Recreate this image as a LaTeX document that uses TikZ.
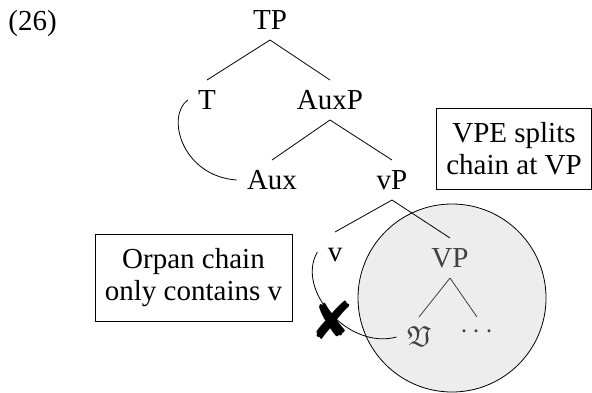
\documentclass[tikz,border=0pt]{standalone}
\usepackage{amssymb}
\usepackage{fontspec}
\setmainfont{Liberation Serif}
\newfontfamily\dingfont{DejaVu Sans}

\begin{document}
\begin{tikzpicture}[x=0.5pt,y=-0.5pt]
    \tikzstyle{every node}=[font=\fontsize{14.5}{16}\selectfont]
    \tikzstyle{cat}=[text height=9.6pt,text depth=0pt,inner xsep=5pt,inner ysep=5pt]
    \tikzstyle{note}=[draw,align=center,inner xsep=5pt,inner ysep=7pt]
    \tikzstyle{elided}=[black!75]
    \useasboundingbox (0,0) rectangle (592,392);
    % the elided VP
    \filldraw[fill=black!7,draw=black] (452,298) circle [radius=47pt];
    \node[anchor=base west,inner sep=0] (ex) at (8,30) {(26)};
    \node[cat] (tp) at (270,20) {TP};
    \node[cat] (t) at (207,100) {T};
    \node[cat] (auxp) at (330,100) {AuxP};
    \node[cat] (aux) at (272,180) {Aux};
    \node[cat] (vp) at (392,180) {vP};
    \node[cat] (v) at (335,252) {v};
    \node[cat,elided] (bigvp) at (450,258) {VP};
    \node[cat,elided] (vroot) at (419,337) {$\mathfrak{V}$};
    \node[cat,elided] (dots) at (477,337) {\raisebox{4pt}{$\cdots$}};
    \draw (tp.south) -- (t.north);
    \draw (tp.south) -- (auxp.north);
    \draw (auxp.south) -- (aux.north);
    \draw (auxp.south) -- (vp.north);
    \draw (vp.south) -- (v.north);
    \draw (vp.south) -- (bigvp.north);
    \draw[elided] (bigvp.south) -- (vroot.north);
    \draw[elided] (bigvp.south) -- (dots.north);
    % chains
    \draw (t.west) .. controls +(-22,16) and +(-55,-4) .. (aux.west);
    \draw (v.west) .. controls +(-22,38) and +(-48,13) .. (vroot.west);
    \node[font=\dingfont\fontsize{26}{26}\selectfont,inner sep=0] (cross) at (332,320) {✘};
    \node[note] (split) at (514,149) {VPE splits\\chain at VP};
    \node[note] (orphan) at (193.5,278) {Orpan chain\\only contains v};
\end{tikzpicture}
\end{document}
